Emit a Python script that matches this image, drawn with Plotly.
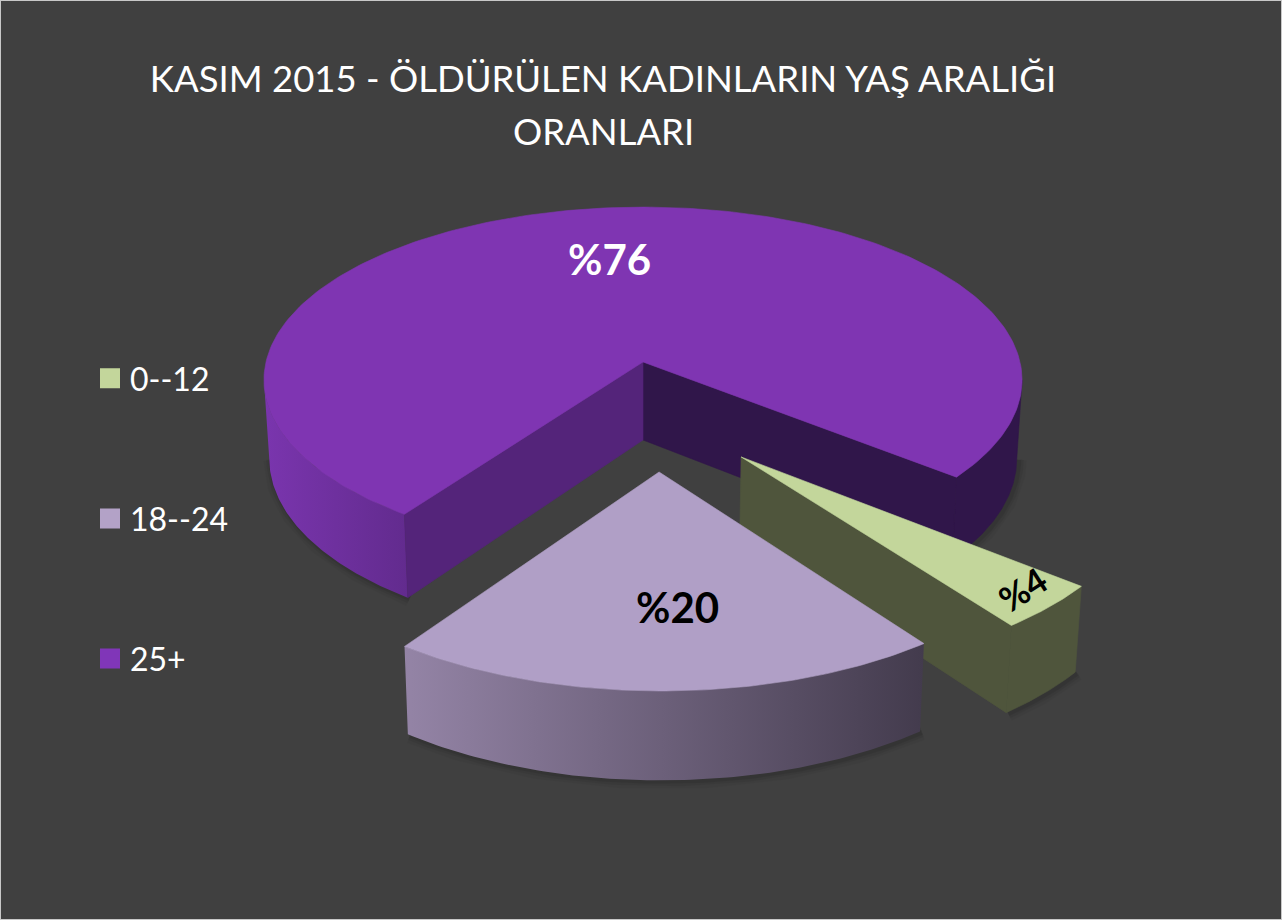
import math
import plotly.graph_objects as go

categories = ["0--12", "18--24", "25+"]
values = [4, 20, 76]
title_lines = ["KASIM 2015 - ÖLDÜRÜLEN KADINLARIN YAŞ ARALIĞI", "ORANLARI"]

FONT = "Lato, Carlito, Calibri, sans-serif"
BG = "#404040"
top_col = ["#C3D69B", "#B09FC6", "#7F35B2"]
legend_col = ["#C3D69B", "#B3A2C7", "#8036B8"]
pulls = [(0.246, 0.525), (0.04, 0.603), (0.0, 0.0)]

# oblique perspective of a unit disc, in image pixels
CX, CY, RX, RY, K, DEPTH = 643, 362, 377, 171, 0.104, 78
START = 51.0
EDGE = 84.0   # angle of the disc's left/right silhouette


def project(a, b, low=False):
    w = 1 / (1 - K * b)
    x, y = RX * a * w, RY * b * w
    if low:
        return CX + x * 0.986, CY + y + DEPTH * w ** 0.75
    return CX + x, CY + y


def arc(t0, t1, pull, low=False, n=90):
    pts = []
    for i in range(n + 1):
        t = math.radians(t0 + (t1 - t0) * i / n)
        pts.append(project(math.sin(t) + pull[0], math.cos(t) + pull[1], low))
    return pts


def apex(pull, low=False):
    return project(pull[0], pull[1], low)


def poly(pts, color=None, gradient=None):
    xs = [p[0] for p in pts] + [pts[0][0]]
    ys = [p[1] for p in pts] + [pts[0][1]]
    if gradient:
        kw = dict(fillgradient=gradient, line=dict(width=0))
    else:
        kw = dict(fillcolor=color, line=dict(width=0.6, color=color))
    return go.Scatter(x=xs, y=ys, mode="lines", fill="toself",
                      showlegend=False, hoverinfo="skip", **kw)


def hgrad(c0, c1):
    return dict(type="horizontal", colorscale=[[0, c0], [1, c1]])


spans = []
a = START
for v in values:
    s = v / sum(values) * 360
    spans.append((a, a - s))
    a -= s

fig = go.Figure()

# soft contact shadows
for (t0, t1), pull, clip in zip(spans, pulls, [(None, None), (None, None), (-EDGE, EDGE)]):
    if clip[0] is None:
        runs = [(t0, t1)]
    else:
        runs = [(t0, -EDGE), (t1 + 360, EDGE)]
    for r0, r1 in runs:
        pts = arc(r0, r1, pull, low=True)
        for width, alpha in [(16, 0.035), (10, 0.05), (5, 0.07)]:
            fig.add_trace(go.Scatter(x=[p[0] + 2 for p in pts], y=[p[1] + 1 for p in pts], mode="lines",
                                     line=dict(width=width, color=f"rgba(0,0,0,{alpha})"),
                                     showlegend=False, hoverinfo="skip"))

# 25+ slice
g0, g1 = spans[2]
p = pulls[2]
fig.add_trace(poly(arc(g0, -EDGE, p) + arc(-EDGE, g0, p, low=True), gradient=hgrad("#7A35AE", "#622B8E")))
fig.add_trace(poly(arc(g1 + 360, EDGE, p) + arc(EDGE, g1 + 360, p, low=True), color="#30164A"))
fig.add_trace(poly([apex(p), arc(g1, g1, p, n=1)[0], arc(g1, g1, p, low=True, n=1)[0], apex(p, True)], color="#30164A"))
fig.add_trace(poly([apex(p), arc(g0, g0, p, n=1)[0], arc(g0, g0, p, low=True, n=1)[0], apex(p, True)], color="#54247A"))
fig.add_trace(poly([apex(p)] + arc(g0, g1, p, n=240), color=top_col[2]))

# 0--12 slice
g0, g1 = spans[0]
p = pulls[0]
fig.add_trace(poly(arc(g0, g1, p) + arc(g1, g0, p, low=True), color="#4F553C"))
fig.add_trace(poly([apex(p), arc(g1, g1, p, n=1)[0], arc(g1, g1, p, low=True, n=1)[0], apex(p, True)], color="#4F553C"))
fig.add_trace(poly([apex(p)] + arc(g0, g1, p), color=top_col[0]))

# 18--24 slice
g0, g1 = spans[1]
p = pulls[1]
fig.add_trace(poly(arc(g0, g1, p) + arc(g1, g0, p, low=True), gradient=hgrad("#9484A6", "#433B4D")))
fig.add_trace(poly([apex(p)] + arc(g0, g1, p), color=top_col[1]))

# legend entries
for name, color in zip(categories, legend_col):
    fig.add_trace(go.Scatter(x=[None], y=[None], mode="markers", name=name, legendgroup=name,
                             marker=dict(symbol="square", size=16, color=color, line=dict(width=4, color=color))))

labels = [f"%{v}" for v in values]
fig.update_layout(
    width=1282, height=920,
    margin=dict(l=0, r=0, t=0, b=0),
    paper_bgcolor=BG, plot_bgcolor=BG,
    font=dict(family=FONT, color="white"),
    xaxis=dict(range=[0, 1282], visible=False, fixedrange=True),
    yaxis=dict(range=[920, 0], visible=False, fixedrange=True),
    title=dict(text=title_lines[0], x=603 / 1282, xanchor="center", y=1 - 79 / 920, yanchor="middle",
               font=dict(family=FONT, size=36.5, color="white")),
    legend=dict(x=90 / 1282, xanchor="left", y=1 - 518.5 / 920, yanchor="middle", tracegroupgap=95.5,
                font=dict(family=FONT, size=32, color="white"), bgcolor="rgba(0,0,0,0)"),
    shapes=[dict(type="rect", xref="paper", yref="paper", x0=0, x1=1, y0=0, y1=1,
                 line=dict(color="#C8C8C8", width=2))],
    annotations=[
        dict(x=603, y=131, xref="x", yref="y", text=title_lines[1], showarrow=False,
             font=dict(family=FONT, size=36.5, color="white")),
        dict(x=609, y=259, xref="x", yref="y", text=f"<b>{labels[2]}</b>", showarrow=False,
             font=dict(family=FONT, size=42, color="white")),
        dict(x=677, y=607, xref="x", yref="y", text=f"<b>{labels[1]}</b>", showarrow=False,
             font=dict(family=FONT, size=42, color="black")),
        dict(x=1022, y=589, xref="x", yref="y", text=f"<b>{labels[0]}</b>", showarrow=False, textangle=-33,
             font=dict(family=FONT, size=35, color="black")),
    ],
)
fig.write_html("out.html", config=dict(displayModeBar=False),
               post_script="document.body.style.margin='0';document.documentElement.style.overflow='hidden';")
